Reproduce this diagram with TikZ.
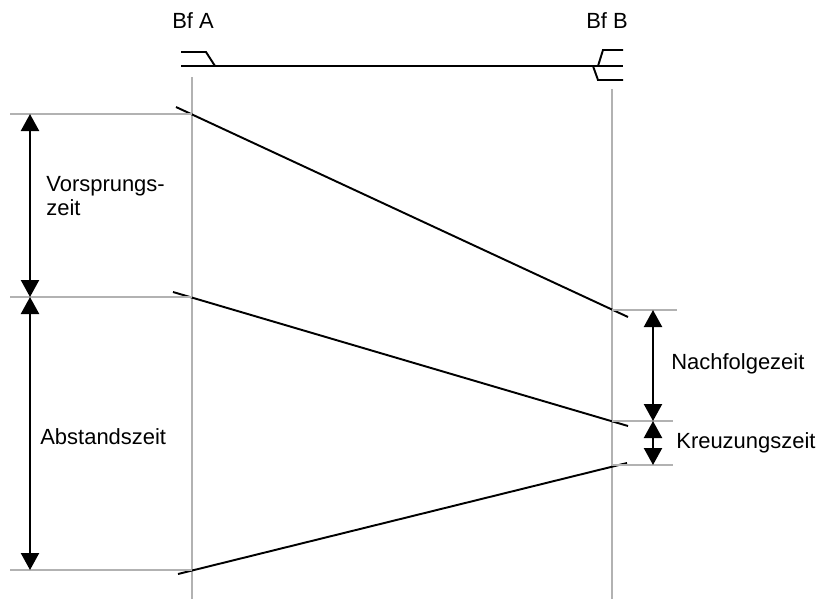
\documentclass[tikz,border=0pt]{standalone}
\usepackage{fontspec}
\setmainfont{Liberation Sans}
\usetikzlibrary{arrows.meta}
\tikzset{
  hilf/.style={gray!60,line width=0.6pt},
  zug/.style={black,line width=1.1pt},
  gleis/.style={black,line width=1.1pt},
  mass/.style={black,line width=1.3pt,{Triangle[length=0.34cm,width=0.36cm]}-{Triangle[length=0.34cm,width=0.36cm]}},
  txt/.style={anchor=base west,inner sep=0pt,font=\fontsize{12.5}{13.5}\selectfont}
}
\begin{document}
\begin{tikzpicture}[x=0.02cm,y=-0.02cm]
\useasboundingbox (0,0) rectangle (819,599);
% Bahnhoefe
\node[txt,anchor=base] (bfa) at (193,28) {Bf A};
\node[txt,anchor=base] (bfb) at (607,28) {Bf B};
\draw[hilf] (192,77) -- (192,599);
\draw[hilf] (612,89) -- (612,599);
% Strecke
\draw[gleis] (181,66) -- (623,66);
\draw[gleis] (181,52) -- (206,52) -- (215,66);
\draw[gleis] (623,50) -- (603,50) -- (598,66);
\draw[gleis] (593,66) -- (598,80) -- (623,80);
% Zuege
\draw[zug] (176,107) -- (628,317);
\draw[zug] (173,292) -- (628,426);
\draw[zug] (178,574) -- (627,463);
% Hilfslinien
\coordinate (a1) at (30,114);
\coordinate (a2) at (30,297);
\coordinate (a3) at (30,570);
\coordinate (b1) at (653,310);
\coordinate (b2) at (653,421);
\coordinate (b3) at (653,465);
\draw[hilf] (10,114) -- (192,114);
\draw[hilf] (10,297) -- (192,297);
\draw[hilf] (10,570) -- (192,570);
\draw[hilf] (612,310) -- (677,310);
\draw[hilf] (612,421) -- (673,421);
\draw[hilf] (612,465) -- (673,465);
% Zeiten
\draw[mass] (a1) -- (a2);
\draw[mass] (a2) -- (a3);
\draw[mass] (b1) -- (b2);
\draw[mass] (b2) -- (b3);
\node[txt,align=left] (vor) at (46,215) {Vorsprungs-\\zeit};
\node[txt] (abst) at (40,444) {Abstandszeit};
\node[txt] (nach) at (671,369) {Nachfolgezeit};
\node[txt] (kreuz) at (676,448) {Kreuzungszeit};
\end{tikzpicture}
\end{document}
